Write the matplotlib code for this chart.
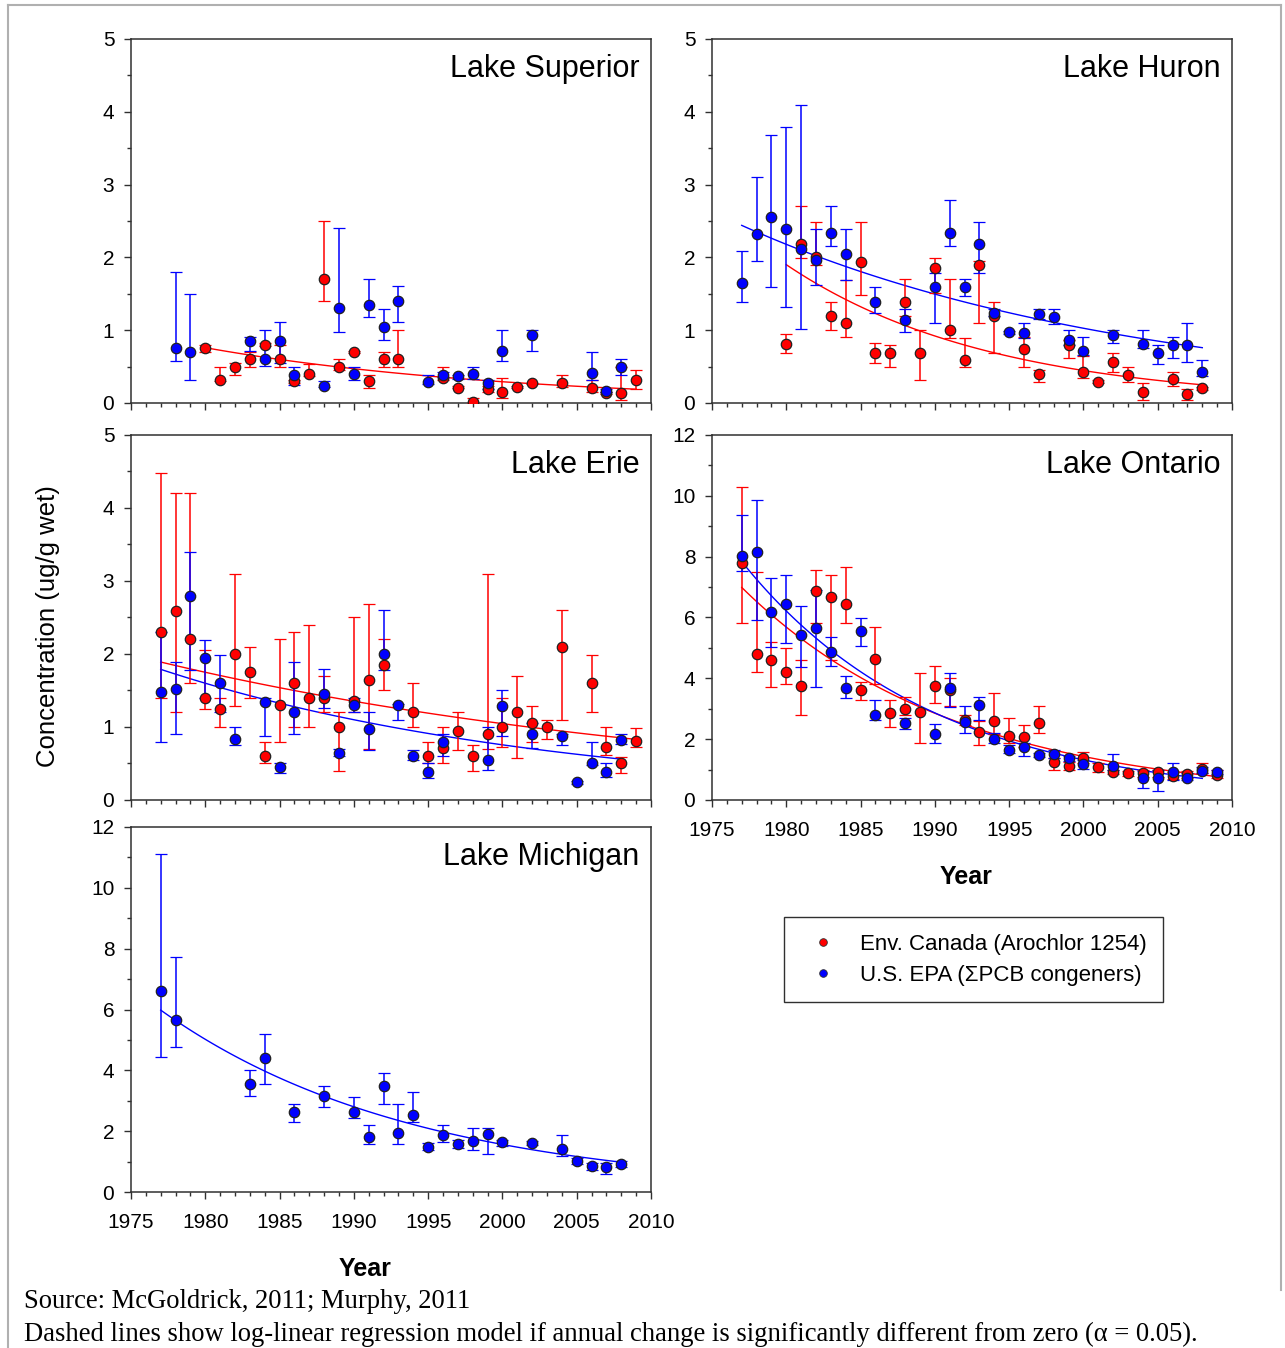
import numpy as np
import matplotlib
matplotlib.use('Agg')
import matplotlib.pyplot as plt
from matplotlib.ticker import MultipleLocator
from matplotlib.lines import Line2D

plt.rcParams['font.family'] = ['Liberation Sans', 'DejaVu Sans']

# ---- Lake Superior ----
sup_ec_year = [1980, 1981, 1982, 1983, 1984, 1985, 1986, 1987, 1988, 1989, 1990, 1991, 1992, 1993,
               1996, 1997, 1998, 1999, 2000, 2001, 2002, 2004, 2006, 2007, 2008, 2009]
sup_ec_conc = [0.75, 0.32, 0.50, 0.60, 0.80, 0.60, 0.30, 0.40, 1.71, 0.50, 0.70, 0.30, 0.60, 0.60,
               0.34, 0.21, 0.02, 0.19, 0.15, 0.22, 0.27, 0.28, 0.21, 0.14, 0.14, 0.32]
sup_ec_low = [0.70, 0.30, 0.39, 0.50, 0.78, 0.50, 0.28, 0.37, 1.40, 0.46, 0.68, 0.21, 0.50, 0.50,
              0.32, 0.20, 0.00, 0.15, 0.07, 0.21, 0.26, 0.22, 0.15, 0.13, 0.04, 0.19]
sup_ec_high = [0.80, 0.50, 0.55, 0.70, 0.82, 0.80, 0.32, 0.54, 2.50, 0.60, 0.72, 0.39, 0.70, 1.00,
               0.50, 0.23, 0.07, 0.23, 0.34, 0.23, 0.28, 0.39, 0.32, 0.15, 0.50, 0.45]

sup_epa_year = [1978, 1979, 1983, 1984, 1985, 1986, 1988, 1989, 1990, 1991, 1992, 1993,
                1995, 1996, 1997, 1998, 1999, 2000, 2002, 2006, 2007, 2008]
sup_epa_conc = [0.75, 0.70, 0.85, 0.61, 0.85, 0.38, 0.24, 1.30, 0.40, 1.35, 1.05, 1.40,
                0.29, 0.39, 0.37, 0.40, 0.28, 0.71, 0.94, 0.41, 0.17, 0.50]
sup_epa_low = [0.58, 0.32, 0.72, 0.51, 0.55, 0.25, 0.22, 0.97, 0.32, 1.18, 0.87, 1.11,
               0.26, 0.36, 0.33, 0.33, 0.19, 0.58, 0.71, 0.32, 0.15, 0.39]
sup_epa_high = [1.80, 1.50, 0.91, 1.00, 1.11, 0.50, 0.30, 2.40, 0.50, 1.71, 1.29, 1.61,
                0.39, 0.42, 0.39, 0.50, 0.32, 1.00, 1.00, 0.70, 0.19, 0.60]

# ---- Lake Huron ----
hur_ec_year = [1980, 1981, 1982, 1983, 1984, 1985, 1986, 1987, 1988, 1989, 1990, 1991, 1992, 1993,
               1994, 1996, 1997, 1999, 2000, 2001, 2002, 2003, 2004, 2006, 2007, 2008]
hur_ec_conc = [0.81, 2.19, 2.00, 1.20, 1.10, 1.93, 0.69, 0.69, 1.39, 0.69, 1.85, 1.00, 0.59, 1.89,
               1.19, 0.74, 0.40, 0.79, 0.42, 0.29, 0.57, 0.38, 0.15, 0.33, 0.13, 0.20]
hur_ec_low = [0.68, 1.99, 1.90, 1.00, 0.90, 1.49, 0.55, 0.49, 1.19, 0.31, 1.51, 0.89, 0.49, 1.10,
              0.68, 0.49, 0.29, 0.62, 0.34, 0.27, 0.42, 0.29, 0.04, 0.24, 0.04, 0.18]
hur_ec_high = [0.95, 2.70, 2.49, 1.39, 1.69, 2.49, 0.82, 0.79, 1.70, 1.00, 1.99, 1.70, 0.89, 1.95,
               1.39, 0.90, 0.45, 0.87, 0.65, 0.31, 0.68, 0.50, 0.27, 0.43, 0.19, 0.22]

hur_epa_year = [1977, 1978, 1979, 1980, 1981, 1982, 1983, 1984, 1986, 1988, 1990, 1991, 1992, 1993,
                1994, 1995, 1996, 1997, 1998, 1999, 2000, 2002, 2004, 2005, 2006, 2007, 2008]
hur_epa_conc = [1.65, 2.32, 2.56, 2.39, 2.12, 1.96, 2.33, 2.05, 1.39, 1.14, 1.60, 2.34, 1.60, 2.19,
                1.24, 0.97, 0.96, 1.22, 1.18, 0.87, 0.72, 0.94, 0.81, 0.68, 0.79, 0.80, 0.43]
hur_epa_low = [1.39, 1.95, 1.60, 1.32, 1.01, 1.62, 2.15, 1.69, 1.24, 0.97, 1.10, 2.16, 1.47, 1.79,
               1.19, 0.95, 0.89, 1.15, 1.08, 0.80, 0.66, 0.83, 0.75, 0.54, 0.62, 0.56, 0.37]
hur_epa_high = [2.09, 3.10, 3.68, 3.79, 4.09, 2.39, 2.70, 2.39, 1.60, 1.29, 1.79, 2.79, 1.70, 2.49,
                1.29, 0.99, 1.10, 1.29, 1.29, 1.00, 0.90, 1.00, 1.00, 0.80, 0.90, 1.10, 0.59]

# ---- Lake Erie ----
eri_ec_year = [1977, 1978, 1979, 1980, 1981, 1982, 1983, 1984, 1985, 1986, 1987, 1988, 1989, 1990,
               1991, 1992, 1994, 1995, 1996, 1997, 1998, 1999, 2000, 2001, 2002, 2003, 2004, 2006,
               2007, 2008, 2009]
eri_ec_conc = [2.30, 2.59, 2.20, 1.40, 1.25, 2.00, 1.75, 0.60, 1.30, 1.60, 1.40, 1.40, 1.00, 1.35,
               1.64, 1.85, 1.20, 0.60, 0.71, 0.95, 0.60, 0.90, 1.00, 1.20, 1.05, 1.00, 2.10, 1.60,
               0.72, 0.50, 0.81]
eri_ec_low = [1.40, 1.20, 1.60, 1.24, 1.00, 1.29, 1.40, 0.50, 0.80, 1.00, 1.00, 1.20, 0.40, 1.20,
              0.70, 1.50, 1.00, 0.50, 0.50, 0.69, 0.40, 0.70, 0.72, 0.58, 0.80, 0.83, 1.10, 1.20,
              0.62, 0.37, 0.72]
eri_ec_high = [4.48, 4.20, 4.20, 2.05, 1.40, 3.09, 2.09, 0.80, 2.20, 2.30, 2.40, 1.70, 1.20, 2.50,
               2.69, 2.20, 1.60, 0.80, 1.00, 1.20, 0.75, 3.09, 1.40, 1.70, 1.29, 1.09, 2.60, 1.99,
               1.00, 0.59, 0.99]

eri_epa_year = [1977, 1978, 1979, 1980, 1981, 1982, 1984, 1985, 1986, 1988, 1989, 1990, 1991, 1992,
                1993, 1994, 1995, 1996, 1999, 2000, 2002, 2004, 2005, 2006, 2007, 2008]
eri_epa_conc = [1.48, 1.52, 2.80, 1.95, 1.60, 0.83, 1.34, 0.45, 1.20, 1.45, 0.65, 1.30, 0.97, 2.00,
                1.30, 0.60, 0.39, 0.80, 0.55, 1.29, 0.91, 0.87, 0.24, 0.51, 0.38, 0.82]
eri_epa_low = [0.79, 0.90, 1.78, 1.40, 1.20, 0.75, 0.88, 0.37, 0.90, 1.26, 0.60, 1.20, 0.69, 1.78,
               1.09, 0.55, 0.30, 0.60, 0.41, 0.88, 0.71, 0.75, 0.22, 0.48, 0.31, 0.77]
eri_epa_high = [2.30, 1.89, 3.40, 2.19, 1.99, 1.00, 1.40, 0.50, 1.89, 1.80, 0.70, 1.40, 1.20, 2.60,
                1.32, 0.69, 0.50, 0.90, 1.00, 1.50, 1.05, 0.91, 0.26, 0.80, 0.50, 0.90]

# ---- Lake Ontario ----
ont_ec_year = list(range(1977, 2010))
ont_ec_conc = [7.80, 4.79, 4.60, 4.20, 3.75, 6.88, 6.68, 6.44, 3.62, 4.64, 2.85, 3.00, 2.89, 3.75,
               3.62, 2.63, 2.25, 2.61, 2.12, 2.06, 2.52, 1.24, 1.12, 1.37, 1.10, 0.93, 0.88, 0.88,
               0.91, 0.79, 0.84, 1.01, 0.82]
ont_ec_low = [5.81, 4.20, 3.70, 3.81, 2.79, 5.81, 4.60, 5.81, 3.29, 3.81, 2.41, 2.80, 1.88, 3.18,
              3.09, 2.45, 1.81, 2.17, 1.86, 1.75, 2.21, 1.00, 0.98, 1.20, 0.93, 0.85, 0.80, 0.77,
              0.77, 0.68, 0.71, 0.88, 0.71]
ont_ec_high = [10.28, 7.50, 5.21, 4.99, 4.60, 7.56, 7.40, 7.67, 3.87, 5.68, 3.29, 3.40, 4.19, 4.41,
               4.00, 2.80, 2.61, 3.51, 2.68, 2.47, 3.10, 1.37, 1.25, 1.59, 1.20, 1.00, 0.95, 0.99,
               0.97, 0.93, 0.96, 1.21, 0.99]

ont_epa_year = [1977, 1978, 1979, 1980, 1981, 1982, 1983, 1984, 1985, 1986, 1988, 1990, 1991, 1992,
                1993, 1994, 1995, 1996, 1997, 1998, 1999, 2000, 2002, 2004, 2005, 2006, 2007, 2008,
                2009]
ont_epa_conc = [8.03, 8.16, 6.19, 6.44, 5.42, 5.64, 4.88, 3.67, 5.56, 2.79, 2.52, 2.16, 3.69, 2.56,
                3.11, 2.00, 1.64, 1.75, 1.48, 1.51, 1.37, 1.18, 1.12, 0.71, 0.71, 0.91, 0.73, 0.96,
                0.91]
ont_epa_low = [7.54, 5.92, 5.02, 5.17, 4.36, 3.70, 4.41, 3.36, 5.06, 2.63, 2.32, 1.86, 3.05, 2.19,
               2.63, 1.88, 1.55, 1.44, 1.40, 1.37, 1.28, 1.01, 0.98, 0.41, 0.30, 0.66, 0.66, 0.88,
               0.85]
ont_epa_high = [9.38, 9.86, 7.29, 7.40, 6.39, 6.90, 5.37, 4.08, 5.99, 3.29, 2.68, 2.49, 4.19, 3.09,
                3.40, 2.21, 1.80, 1.88, 1.56, 1.65, 1.45, 1.30, 1.51, 0.96, 0.99, 1.21, 0.88, 1.08,
                0.97]

# ---- Lake Michigan ----
mic_epa_year = [1977, 1978, 1983, 1984, 1986, 1988, 1990, 1991, 1992, 1993, 1994, 1995, 1996, 1997,
                1998, 1999, 2000, 2002, 2004, 2005, 2006, 2007, 2008]
mic_epa_conc = [6.61, 5.65, 3.55, 4.41, 2.63, 3.15, 2.63, 1.81, 3.49, 1.94, 2.52, 1.48, 1.89, 1.59,
                1.67, 1.90, 1.64, 1.61, 1.43, 1.02, 0.85, 0.82, 0.93]
mic_epa_low = [4.45, 4.77, 3.17, 3.55, 2.29, 2.78, 2.44, 1.59, 2.89, 1.57, 2.31, 1.37, 1.65, 1.46,
               1.37, 1.26, 1.50, 1.55, 1.17, 0.91, 0.71, 0.58, 0.82]
mic_epa_high = [11.10, 7.72, 4.01, 5.19, 2.89, 3.48, 3.11, 2.20, 3.90, 2.89, 3.29, 1.60, 2.20, 1.72,
                2.09, 2.09, 1.70, 1.67, 1.89, 1.13, 0.96, 0.96, 1.02]

# log-linear regression curves: [start year, start value, end year, end value]
sup_ec_fit = [1980, 0.76, 2009, 0.19]
hur_ec_fit = [1980, 1.90, 2008, 0.25]
hur_epa_fit = [1977, 2.44, 2008, 0.76]
eri_ec_fit = [1977, 1.89, 2009, 0.83]
eri_epa_fit = [1977, 1.79, 2008, 0.56]
ont_ec_fit = [1977, 6.99, 2009, 0.77]
ont_epa_fit = [1977, 7.84, 2008, 0.71]
mic_epa_fit = [1977, 5.98, 2008, 0.98]

RED = '#ff0000'
BLUE = '#0000ff'
W, H = 1285, 1348


def box(l, t, r, b):
    return [l / W, 1 - b / H, (r - l) / W, (b - t) / H]


def series(ax, year, conc, low, high, color):
    conc = np.array(conc)
    yerr = [conc - np.array(low), np.array(high) - conc]
    ax.errorbar(year, conc, yerr=yerr, fmt='o', color=color, ecolor=color,
                elinewidth=1.1, capsize=4, capthick=1.1, markersize=7.5,
                markeredgecolor='#202020', markeredgewidth=0.9, zorder=3)


def fit(ax, params, color):
    t0, v0, t1, v1 = params
    t = np.linspace(t0, t1, 100)
    ax.plot(t, v0 * (v1 / v0) ** ((t - t0) / (t1 - t0)), color=color, lw=1.0, zorder=2)


def setup(ax, ymax, ymajor, yminor, title, xlabels):
    ax.set_xlim(1975, 2010)
    ax.set_ylim(0, ymax)
    ax.xaxis.set_major_locator(MultipleLocator(5))
    ax.xaxis.set_minor_locator(MultipleLocator(1))
    ax.yaxis.set_major_locator(MultipleLocator(ymajor))
    ax.yaxis.set_minor_locator(MultipleLocator(yminor))
    ax.tick_params(which='major', direction='out', length=5, width=1, labelsize=15, color='#303030')
    ax.tick_params(which='minor', direction='out', length=3, width=1, color='#303030')
    ax.tick_params(axis='y', pad=7)
    ax.tick_params(axis='x', pad=10, labelbottom=xlabels)
    for s in ax.spines.values():
        s.set_color('#303030')
        s.set_linewidth(1.1)
    ax.text(0.978, 0.917, title, transform=ax.transAxes, ha='right', va='center', fontsize=22)


fig = plt.figure(figsize=(W / 100, H / 100), dpi=100)

ax_sup = fig.add_axes(box(131, 39, 651, 403))
setup(ax_sup, 5, 1, 0.5, 'Lake Superior', False)
fit(ax_sup, sup_ec_fit, RED)
series(ax_sup, sup_ec_year, sup_ec_conc, sup_ec_low, sup_ec_high, RED)
series(ax_sup, sup_epa_year, sup_epa_conc, sup_epa_low, sup_epa_high, BLUE)

ax_hur = fig.add_axes(box(712, 39, 1232, 403))
setup(ax_hur, 5, 1, 0.5, 'Lake Huron', False)
fit(ax_hur, hur_ec_fit, RED)
fit(ax_hur, hur_epa_fit, BLUE)
series(ax_hur, hur_ec_year, hur_ec_conc, hur_ec_low, hur_ec_high, RED)
series(ax_hur, hur_epa_year, hur_epa_conc, hur_epa_low, hur_epa_high, BLUE)

ax_eri = fig.add_axes(box(131, 435, 651, 800))
setup(ax_eri, 5, 1, 0.5, 'Lake Erie', False)
fit(ax_eri, eri_ec_fit, RED)
fit(ax_eri, eri_epa_fit, BLUE)
series(ax_eri, eri_ec_year, eri_ec_conc, eri_ec_low, eri_ec_high, RED)
series(ax_eri, eri_epa_year, eri_epa_conc, eri_epa_low, eri_epa_high, BLUE)

ax_ont = fig.add_axes(box(712, 435, 1232, 800))
setup(ax_ont, 12, 2, 1, 'Lake Ontario', True)
fit(ax_ont, ont_ec_fit, RED)
fit(ax_ont, ont_epa_fit, BLUE)
series(ax_ont, ont_ec_year, ont_ec_conc, ont_ec_low, ont_ec_high, RED)
series(ax_ont, ont_epa_year, ont_epa_conc, ont_epa_low, ont_epa_high, BLUE)

ax_mic = fig.add_axes(box(131, 827, 651, 1192))
setup(ax_mic, 12, 2, 1, 'Lake Michigan', True)
fit(ax_mic, mic_epa_fit, BLUE)
series(ax_mic, mic_epa_year, mic_epa_conc, mic_epa_low, mic_epa_high, BLUE)

fig.text(48 / W, 1 - 626 / H, 'Concentration (ug/g wet)', rotation=90,
         ha='center', va='center', fontsize=18.5)
fig.text(966 / W, 1 - 877 / H, 'Year', ha='center', va='center', fontsize=18, fontweight='bold')
fig.text(365 / W, 1 - 1269 / H, 'Year', ha='center', va='center', fontsize=18, fontweight='bold')

handles = [Line2D([], [], ls='none', marker='o', color=RED, markersize=5.5,
                  markeredgecolor='#303030', markeredgewidth=0.6),
           Line2D([], [], ls='none', marker='o', color=BLUE, markersize=5.5,
                  markeredgecolor='#303030', markeredgewidth=0.6)]
leg = fig.legend(handles, ['Env. Canada (Arochlor 1254)', 'U.S. EPA (\u03a3PCB congeners)'],
                 loc='upper left', bbox_to_anchor=(784 / W, 1 - 917 / H), borderaxespad=0,
                 fontsize=16, fancybox=False, edgecolor='#303030', framealpha=1,
                 borderpad=0.75, handlelength=2.0, handletextpad=0.65, labelspacing=0.45)
leg.get_frame().set_linewidth(1.0)

# light page border
fig.add_artist(Line2D([8 / W, 8 / W], [0, 1 - 5 / H], color='#b0b0b0', lw=1.5))
fig.add_artist(Line2D([8 / W, 1281 / W], [1 - 5 / H, 1 - 5 / H], color='#b0b0b0', lw=1.5))
fig.add_artist(Line2D([1281 / W, 1281 / W], [1 - 5 / H, 1 - 1290 / H], color='#b0b0b0', lw=1.5))

fig.text(24 / W, 1 - 1302 / H, 'Source: McGoldrick, 2011; Murphy, 2011',
         family='Liberation Serif', fontsize=19.2, va='center')
fig.text(24 / W, 1 - 1334 / H,
         'Dashed lines show log-linear regression model if annual change is significantly '
         'different from zero (\u03b1 = 0.05).',
         family='Liberation Serif', fontsize=19.2, va='center')

fig.savefig('out.png', dpi=100)
